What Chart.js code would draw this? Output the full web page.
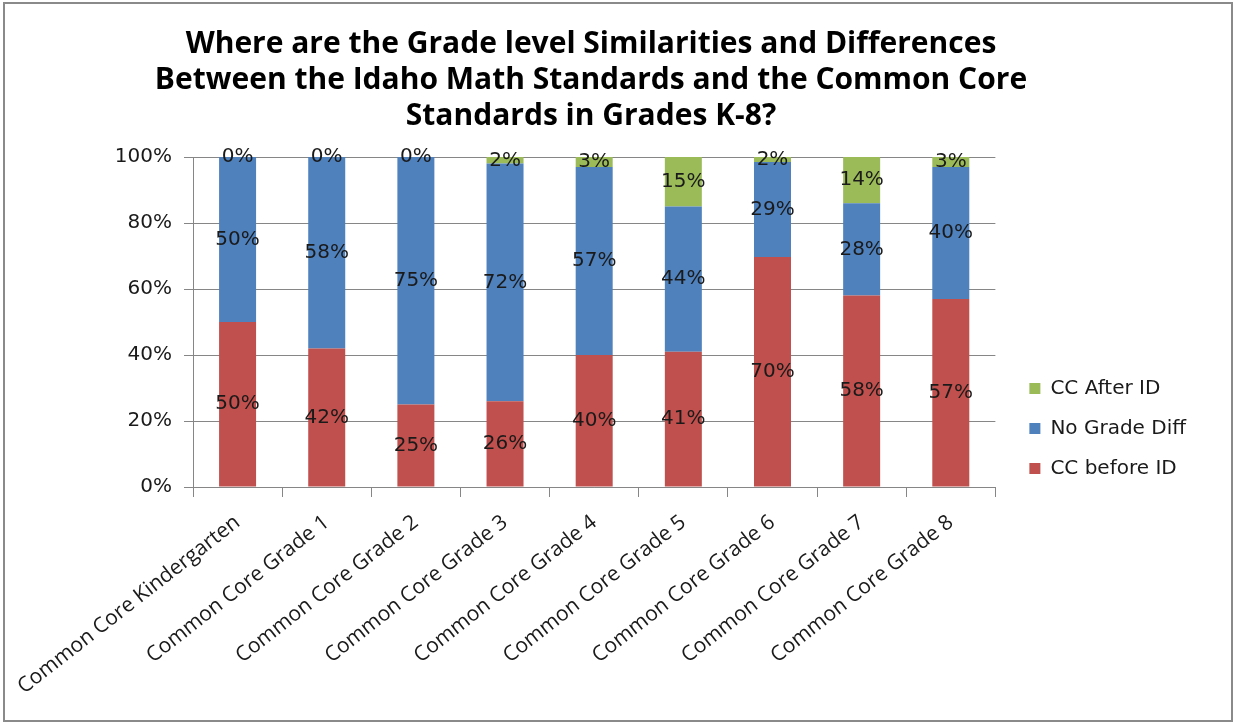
<!DOCTYPE html>
<html><head><meta charset="utf-8">
<script src="https://cdn.jsdelivr.net/npm/chart.js@4.4.1/dist/chart.umd.min.js"></script>
<style>
html,body{margin:0;padding:0;background:#fff;}
#wrap{position:relative;width:1234px;height:723px;overflow:hidden;}
canvas{position:absolute;left:0;top:0;}
#frame{position:absolute;left:3px;top:2px;width:1230px;height:720px;box-sizing:border-box;border:2px solid #8a8a8a;pointer-events:none;}
</style></head><body>
<div id="wrap"><canvas id="c" width="1234" height="723"></canvas><div id="frame"></div></div>
<script>
const categories = ['Common Core Kindergarten','Common Core Grade 1','Common Core Grade 2','Common Core Grade 3','Common Core Grade 4','Common Core Grade 5','Common Core Grade 6','Common Core Grade 7','Common Core Grade 8'];
const ccBeforeId  = [50, 42, 25, 26, 40, 41, 69.7, 58, 57];
const noGradeDiff = [50, 58, 75, 72, 57, 44, 28.8, 28, 40];
const ccAfterId   = [0, 0, 0, 2, 3, 15, 1.5, 14, 3];
const seriesNames = ['CC before ID', 'No Grade Diff', 'CC After ID'];
const yTickValues = [0, 20, 40, 60, 80, 100];
const titleLines = ['Where are the Grade level Similarities and Differences', 'Between the Idaho Math Standards and the Common Core', 'Standards in Grades K-8?'];

const segLabels = {
  id: 'segLabels',
  afterDatasetsDraw(chart) {
    const ctx = chart.ctx;
    ctx.save();
    ctx.font = '20px "DejaVu Sans"';
    ctx.fillStyle = '#1a1a1a';
    ctx.textAlign = 'center';
    ctx.textBaseline = 'middle';
    chart.data.datasets.forEach((ds, i) => {
      const meta = chart.getDatasetMeta(i);
      meta.data.forEach((el, j) => {
        const p = el.getProps(['x', 'y', 'base'], true);
        ctx.fillText(Math.round(ds.data[j]) + '%', p.x, (p.y + p.base) / 2);
      });
    });
    ctx.restore();
  }
};
const legendShift = {
  id: 'legendShift',
  afterLayout(chart) {
    const lg = chart.legend;
    if (lg) { lg.left += 14; lg.right += 14; lg.top += 67; lg.bottom += 67; }
  }
};

new Chart(document.getElementById('c'), {
  type: 'bar',
  data: {
    labels: categories,
    datasets: [
      { label: seriesNames[0], data: ccBeforeId, backgroundColor: '#C0504D' },
      { label: seriesNames[1], data: noGradeDiff, backgroundColor: '#4F81BD' },
      { label: seriesNames[2], data: ccAfterId, backgroundColor: '#9BBB59' }
    ]
  },
  options: {
    responsive: false,
    animation: false,
    devicePixelRatio: 1,
    layout: { padding: { left: 0, right: 52, top: 0, bottom: 0 } },
    datasets: { bar: { barPercentage: 0.415, categoryPercentage: 1.0 } },
    scales: {
      x: {
        stacked: true,
        grid: { drawOnChartArea: false, drawTicks: true, tickLength: 10, color: '#868686' },
        border: { display: true, color: '#868686' },
        ticks: { autoSkip: false, minRotation: 38, maxRotation: 38, padding: 13, color: '#1a1a1a', font: { family: 'Open Sans', size: 21 } },
        afterFit(s) { s.paddingLeft = 0; s.paddingRight = 0; s.height = 236; }
      },
      y: {
        stacked: true,
        min: 0, max: 100,
        afterBuildTicks(s) { s.ticks = yTickValues.map(v => ({ value: v })); },
        grid: { color: '#868686', tickLength: 9, drawTicks: true },
        border: { display: true, color: '#868686' },
        ticks: { padding: 12, color: '#1a1a1a', font: { family: 'DejaVu Sans', size: 20 }, callback: v => v + '%' },
        afterFit(s) { s.width = 193; }
      }
    },
    plugins: {
      title: {
        display: true,
        text: titleLines,
        color: '#000',
        font: { family: 'Open Sans', size: 30, weight: 'bold', lineHeight: 1.2 },
        padding: { top: 26, bottom: 23 }
      },
      legend: {
        display: true,
        position: 'right',
        reverse: true,
        labels: { boxWidth: 11, boxHeight: 11, padding: 20, color: '#1a1a1a', font: { family: 'DejaVu Sans', size: 20 } }
      },
      tooltip: { enabled: false }
    }
  },
  plugins: [segLabels, legendShift]
});
</script>
</body></html>
